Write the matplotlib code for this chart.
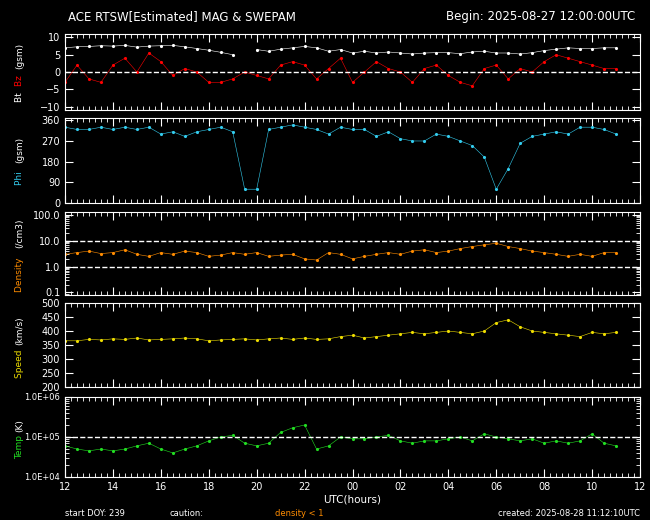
import numpy as np
import matplotlib.pyplot as plt

hours = np.arange(12.0, 35.01, 0.5)

bt = [7.0, 7.3, 7.4, 7.6, 7.5, 7.7, 7.2, 7.5, 7.6, 7.7, 7.3, 6.8, 6.3, 5.7, 5.0, np.nan,
      6.5, 6.0, 6.6, 7.0, 7.4, 7.0, 6.0, 6.5, 5.5, 6.0, 5.5, 5.8, 5.5, 5.2, 5.5, 5.6,
      5.6, 5.3, 5.8, 6.0, 5.5, 5.5, 5.2, 5.6, 6.2, 6.6, 7.0, 6.8, 6.8, 7.0, 7.0]
bz = [-3, 2, -2, -3, 2, 4, 0, 5.5, 3, -1, 1, 0, -3, -3, -2, 0,
      -1, -2, 2, 3, 2, -2, 1, 4, -3, 0, 3, 1, 0, -3, 1, 2,
      -1, -3, -4, 1, 2, -2, 1, 0, 3, 5, 4, 3, 2, 1, 1]
phi = [330, 320, 320, 330, 320, 330, 320, 330, 300, 310, 290, 310, 320, 330, 310, 60,
       60, 320, 330, 340, 330, 320, 300, 330, 320, 320, 290, 310, 280, 270, 270, 300,
       290, 270, 250, 200, 60, 150, 260, 290, 300, 310, 300, 330, 330, 320, 300]
density = [3.0, 3.5, 4.0, 3.2, 3.5, 4.5, 3.0, 2.5, 3.5, 3.0, 4.0, 3.5, 2.5, 2.8, 3.5, 3.0,
           3.5, 2.5, 2.8, 3.0, 2.0, 1.8, 3.5, 3.0, 2.0, 2.5, 3.0, 3.5, 3.0, 4.0, 4.5, 3.5,
           4.0, 5.0, 6.0, 7.0, 8.0, 6.0, 5.0, 4.0, 3.5, 3.0, 2.5, 3.0, 2.5, 3.5, 3.5]
speed = [365, 365, 370, 368, 372, 370, 375, 368, 370, 372, 375, 372, 365, 368, 370, 372,
         368, 372, 375, 370, 375, 370, 372, 380, 385, 375, 380, 385, 390, 395, 390, 395,
         400, 395, 390, 400, 430, 440, 415, 400, 395, 390, 385, 380, 395, 390, 395]
temp = [6e4, 5e4, 4.5e4, 5e4, 4.5e4, 5e4, 6e4, 7e4, 5e4, 4e4, 5e4, 6e4, 8e4, 1.0e5, 1.1e5, 7e4,
        6e4, 7e4, 1.3e5, 1.7e5, 2.0e5, 5e4, 6e4, 1.0e5, 9e4, 9e4, 1.0e5, 1.1e5, 8e4, 7e4, 8e4, 8e4,
        9e4, 1.0e5, 8e4, 1.2e5, 1.0e5, 9e4, 8e4, 9e4, 7e4, 8e4, 7e4, 8e4, 1.2e5, 7e4, 6e4]

fig = plt.figure(figsize=(6.5, 5.2), dpi=100, facecolor='black')
W, H = 650, 520
boxes = [(34, 110), (118, 203), (212, 295), (303, 387), (397, 477)]
axes = []
for top, bot in boxes:
    ax = fig.add_axes([65 / W, 1 - bot / H, 575 / W, (bot - top) / H], facecolor='black')
    ax.set_xlim(12, 36)
    for s in ax.spines.values():
        s.set_color('white')
    ax.tick_params(colors='white', labelsize=7, direction='in', right=True, top=True, length=6)
    ax.tick_params(which='minor', direction='in', right=True, top=True, length=3, colors='white')
    ax.set_xticks(np.arange(12, 37, 2))
    ax.set_xticks(np.arange(12, 36.1, 0.25), minor=True)
    if bot != 477:
        ax.set_xticklabels([])
    axes.append(ax)

a1, a2, a3, a4, a5 = axes
kw = dict(marker='.', markersize=2.5, linewidth=0.4)
a1.plot(hours, bt, color='white', **kw)
a1.plot(hours, bz, color='red', **kw)
a1.axhline(0, color='white', ls='--', lw=1)
a1.set_ylim(-11, 11)
a1.set_yticks([-10, -5, 0, 5, 10])

a2.plot(hours, phi, color='#33ccee', **kw)
a2.set_ylim(0, 370)
a2.set_yticks([0, 90, 180, 270, 360])

a3.plot(hours, density, color='#ff8c00', **kw)
a3.set_yscale('log')
a3.set_ylim(0.08, 130)
a3.set_yticks([0.1, 1, 10, 100])
a3.set_yticklabels(['0.1', '1.0', '10.0', '100.0'])
a3.axhline(1, color='white', ls='--', lw=1)
a3.axhline(10, color='white', ls='--', lw=1)

a4.plot(hours, speed, color='#eedd00', **kw)
a4.set_ylim(200, 500)
a4.set_yticks(range(200, 501, 50))

a5.plot(hours, temp, color='#22dd22', **kw)
a5.set_yscale('log')
a5.set_ylim(1e4, 1e6)
a5.set_yticks([1e4, 1e5, 1e6])
a5.set_yticklabels(['1.0E+04', '1.0E+05', '1.0E+06'], fontsize=6)
a5.axhline(1e5, color='white', ls='--', lw=1)
a5.set_xticklabels(['12', '14', '16', '18', '20', '22', '00', '02', '04', '06', '08', '10', '12'])

def ylab(ax, parts):
    pos = ax.get_position()
    y = pos.y0 + pos.height / 2
    step = 0.0105
    n = sum(len(t) for t, c in parts)
    cur = y - n * step / 2
    for t, c in parts:
        fig.text(0.03, cur, t, color=c, rotation=90, fontsize=6.5, va='bottom', ha='center')
        cur += len(t) * step

ylab(a1, [('Bt ', 'white'), ('Bz ', 'red'), ('(gsm)', 'white')])
ylab(a2, [('Phi ', '#33ccee'), ('(gsm)', 'white')])
ylab(a3, [('Density ', '#ff8c00'), ('(/cm3)', 'white')])
ylab(a4, [('Speed ', '#eedd00'), ('(km/s)', 'white')])
ylab(a5, [('Temp ', '#22dd22'), ('(K)', 'white')])

fig.text(68 / W, 1 - 20 / H, 'ACE RTSW[Estimated] MAG & SWEPAM', color='white', fontsize=8.5)
fig.text(635 / W, 1 - 20 / H, 'Begin: 2025-08-27 12:00:00UTC', color='white', fontsize=8.5, ha='right')
fig.text(352 / W, 1 - 503 / H, 'UTC(hours)', color='white', fontsize=7.5, ha='center')
fig.text(65 / W, 1 - 516 / H, 'start DOY: 239', color='white', fontsize=6)
fig.text(170 / W, 1 - 516 / H, 'caution:', color='white', fontsize=6)
fig.text(275 / W, 1 - 516 / H, 'density < 1', color='#ff8c00', fontsize=6)
fig.text(640 / W, 1 - 516 / H, 'created: 2025-08-28 11:12:10UTC', color='white', fontsize=6, ha='right')

fig.savefig('out.png', dpi=100, facecolor='black')
